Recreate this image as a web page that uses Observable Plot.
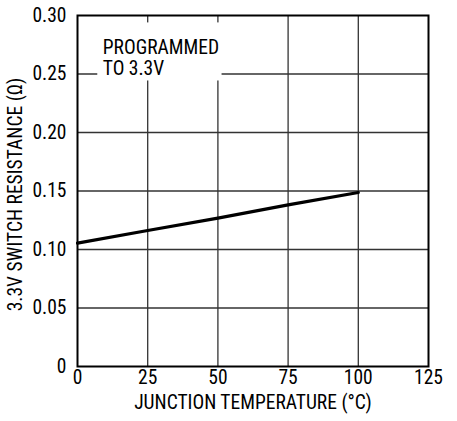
<!DOCTYPE html>
<html>
<head>
<meta charset="utf-8">
<script src="https://cdn.jsdelivr.net/npm/d3@7"></script>
<script src="https://cdn.jsdelivr.net/npm/@observablehq/plot@0.6"></script>
<style>
  html, body { margin: 0; padding: 0; background: #fff; }
  svg { display: block; }
</style>
</head>
<body>
<div id="chart"></div>
<script>
const temperatures = [0, 25, 50, 75, 100];
const resistances = [0.1054, 0.1162, 0.1268, 0.1382, 0.1487];
const xTicks = [0, 25, 50, 75, 100, 125];
const yTicks = [0, 0.05, 0.10, 0.15, 0.20, 0.25, 0.30];
const yTickLabels = ["0", "0.05", "0.10", "0.15", "0.20", "0.25", "0.30"];
const annotationLines = ["PROGRAMMED", "TO 3.3V"];
const annotationX = [9, 9];
const annotationY = [0.2725, 0.2545];
const xTitle = "JUNCTION TEMPERATURE (°C)";
const yTitle = "3.3V SWITCH RESISTANCE (Ω)";

const series = temperatures.map((t, i) => ({t, r: resistances[i]}));
const notes = annotationLines.map((s, i) => ({x: annotationX[i], y: annotationY[i], s}));
const font = "'Roboto Condensed', Roboto, 'Liberation Sans', sans-serif";
const fs = 19.5;

const plot = Plot.plot({
  width: 457,
  height: 421,
  marginLeft: 77,
  marginRight: 29,
  marginTop: 15,
  marginBottom: 55,
  style: {fontFamily: font, fontSize: fs + "px", color: "#000", background: "#fff"},
  x: {domain: [0, 125], ticks: xTicks, tickSize: 0, tickPadding: 4, label: null},
  y: {domain: [0, 0.30], ticks: yTicks, tickSize: 0, tickPadding: 11, label: null,
      tickFormat: (d) => yTickLabels[yTicks.findIndex(v => Math.abs(v - d) < 1e-9)]},
  marks: [
    Plot.ruleX(xTicks.slice(1, -1), {stroke: "#333", strokeWidth: 1.3}),
    Plot.ruleY(yTicks.slice(1, -1), {stroke: "#333", strokeWidth: 1.3}),
    Plot.text(notes, {x: "x", y: "y", text: "s", textAnchor: "start", fill: "#000",
      fontSize: fs, className: "annot"}),
    Plot.line(series, {x: "t", y: "r", stroke: "#000", strokeWidth: 3.2}),
    Plot.frame({stroke: "#000", strokeWidth: 2}),
    Plot.text([xTitle], {frameAnchor: "bottom", dy: 42, fontSize: fs, fill: "#000"}),
    Plot.text([yTitle], {frameAnchor: "left", textAnchor: "middle", dx: -62, dy: 3.5, rotate: -90, fontSize: fs, fill: "#000"})
  ]
});
document.getElementById("chart").appendChild(plot);

// white backing box behind the annotation, sized from the rendered text
const g = plot.querySelector("g.annot");
if (g) {
  const bb = g.getBBox();
  const padL = 5, padR = 3, padT = 13, padB = 1;
  const rect = document.createElementNS("http://www.w3.org/2000/svg", "rect");
  rect.setAttribute("x", bb.x - padL);
  rect.setAttribute("y", bb.y - padT);
  rect.setAttribute("width", bb.width + padL + padR);
  rect.setAttribute("height", bb.height + padT + padB);
  rect.setAttribute("fill", "#fff");
  g.parentNode.insertBefore(rect, g);
}
</script>
</body>
</html>
